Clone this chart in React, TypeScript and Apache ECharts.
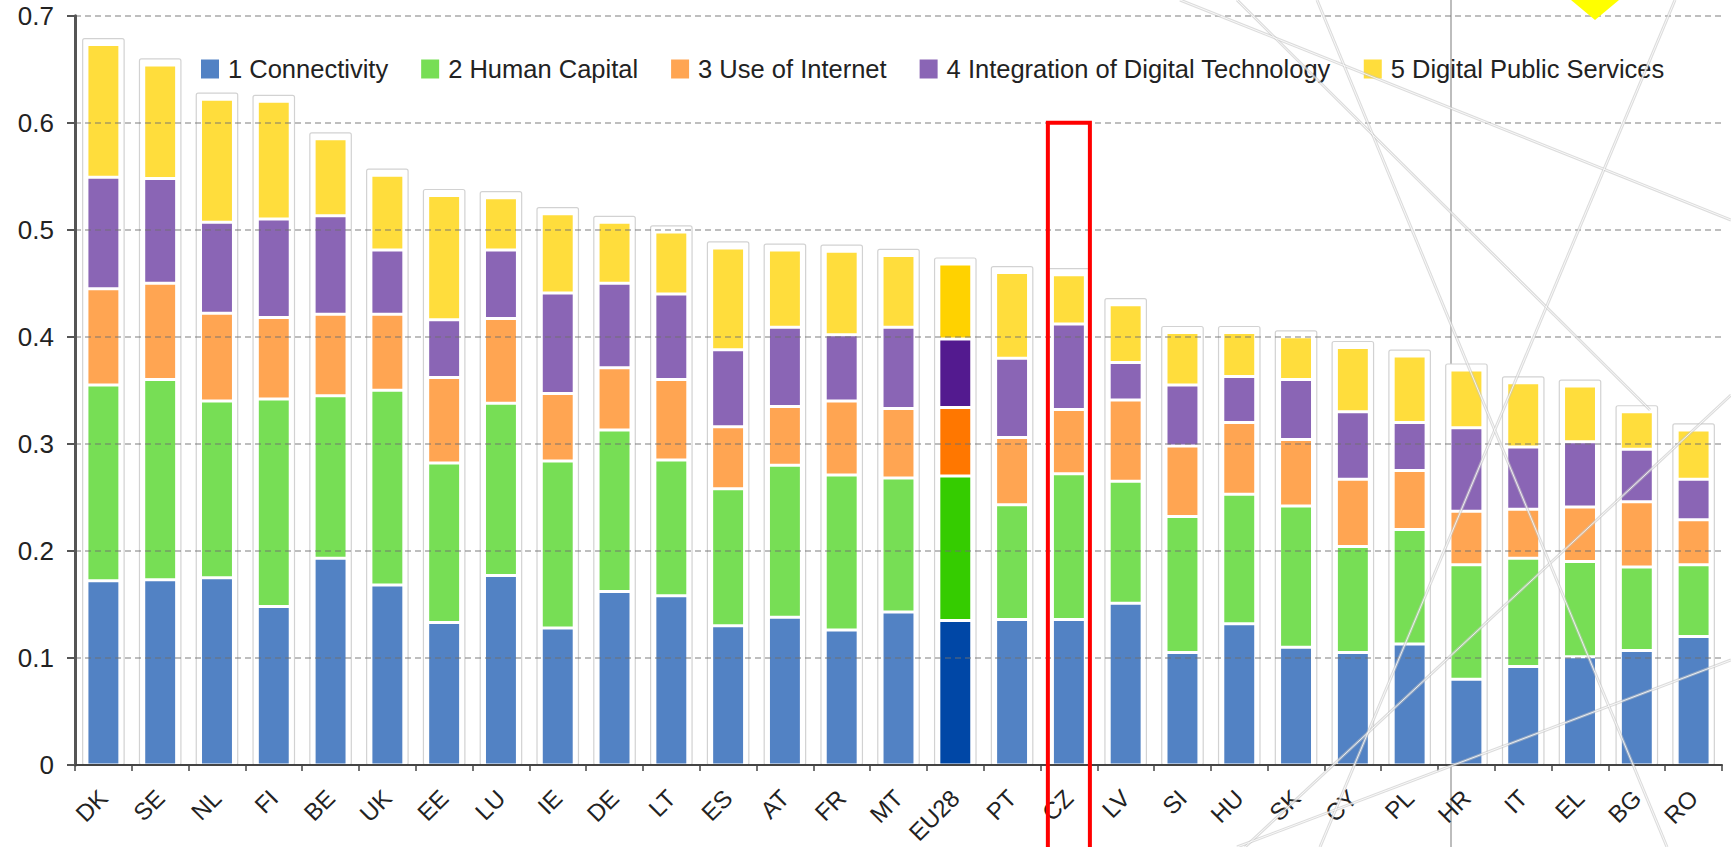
import React, { useEffect, useRef } from 'react';
import * as echarts from 'echarts';

const categories = ['DK','SE','NL','FI','BE','UK','EE','LU','IE','DE','LT','ES','AT','FR','MT','EU28','PT','CZ','LV','SI','HU','SK','CY','PL','HR','IT','EL','BG','RO'];
const connectivity = [0.172,0.173,0.175,0.148,0.193,0.168,0.133,0.177,0.128,0.162,0.158,0.130,0.138,0.126,0.143,0.135,0.136,0.136,0.151,0.105,0.132,0.110,0.105,0.113,0.080,0.092,0.101,0.107,0.120];
const humanCapital = [0.183,0.187,0.165,0.194,0.152,0.182,0.149,0.161,0.156,0.151,0.127,0.128,0.142,0.145,0.125,0.135,0.107,0.136,0.114,0.127,0.121,0.132,0.099,0.107,0.107,0.101,0.089,0.078,0.067];
const useOfInternet = [0.090,0.090,0.082,0.076,0.076,0.071,0.080,0.079,0.063,0.058,0.075,0.058,0.055,0.069,0.065,0.064,0.063,0.060,0.076,0.066,0.067,0.062,0.063,0.055,0.050,0.046,0.051,0.061,0.042];
const integration = [0.104,0.098,0.085,0.092,0.092,0.060,0.054,0.064,0.094,0.079,0.080,0.072,0.074,0.062,0.076,0.064,0.074,0.080,0.035,0.057,0.043,0.056,0.063,0.045,0.078,0.058,0.061,0.049,0.038];
const publicServices = [0.124,0.106,0.115,0.110,0.072,0.070,0.116,0.049,0.074,0.057,0.058,0.095,0.072,0.078,0.067,0.070,0.080,0.046,0.054,0.049,0.041,0.040,0.060,0.062,0.054,0.060,0.052,0.035,0.046];

const seriesNames = ['1 Connectivity','2 Human Capital','3 Use of Internet','4 Integration of Digital Technology','5 Digital Public Services'];
const seriesColors = ['#5282C4','#77DE55','#FFA552','#8A65B5','#FFDD3C'];
const highlightColors = ['#0047A6','#35CC00','#FF7700','#531A8F','#FFD200'];
const highlightCategory = 'EU28';
const markedCategory = 'CZ';
const markedTop = 0.6;
const yTicks = [0, 0.1, 0.2, 0.3, 0.4, 0.5, 0.6, 0.7];

const FONT = '"Liberation Sans", Arial, Helvetica, sans-serif';

export default function App() {
  const ref = useRef<HTMLDivElement>(null);
  useEffect(() => {
    if (!ref.current) return;
    const chart = echarts.init(ref.current, null, { renderer: 'svg' });
    const all = [connectivity, humanCapital, useOfInternet, integration, publicServices];
    const totals = categories.map((_, i) => all.reduce((s, arr) => s + arr[i], 0));

    const barSeries = all.map((arr, si) => ({
      name: seriesNames[si],
      type: 'bar',
      stack: 'desi',
      barWidth: '58%',
      z: 3,
      itemStyle: { color: seriesColors[si], borderColor: '#ffffff', borderWidth: 1.5 },
      emphasis: { disabled: true },
      data: arr.map((v, i) =>
        categories[i] === highlightCategory
          ? { value: v, itemStyle: { color: highlightColors[si] } }
          : v
      ),
    }));

    const frameSeries = {
      type: 'custom',
      z: 1,
      silent: true,
      encode: { x: 0, y: 1 },
      data: totals.map((t, i) => [i, t]),
      renderItem: (params: any, api: any) => {
        const idx = api.value(0);
        const top = api.coord([idx, api.value(1)]);
        const bottom = api.coord([idx, 0]);
        const w = api.size([1, 0])[0] * 0.73;
        return {
          type: 'rect',
          shape: { x: top[0] - w / 2, y: top[1] - 6, width: w, height: bottom[1] - top[1] + 6, r: 2 },
          style: { fill: '#ffffff', stroke: '#d2d2d2', lineWidth: 1.2 },
        };
      },
    };

    chart.setOption({
      animation: false,
      backgroundColor: '#ffffff',
      textStyle: { fontFamily: FONT },
      grid: { left: 75, right: 9, top: 15.7, bottom: 81.5, containLabel: false },
      legend: {
        data: seriesNames.map((n) => ({ name: n, itemStyle: { borderColor: '#ffffff', borderWidth: 0 } })),
        left: 196,
        top: 51,
        icon: 'rect',
        itemWidth: 18,
        itemHeight: 19,
        itemGap: 33,
        textStyle: { fontSize: 25.5, color: '#222', fontFamily: FONT, padding: [8, 0, 0, 4] },
        selectedMode: false,
      },
      xAxis: {
        type: 'category',
        data: categories,
        z: 10,
        axisLine: { show: true, lineStyle: { color: '#444', width: 2 } },
        axisTick: { show: true, length: 6, lineStyle: { color: '#444', width: 1.5 } },
        axisLabel: { interval: 0, rotate: 45, fontSize: 24, color: '#222', margin: 29, fontFamily: FONT },
        splitLine: { show: false },
      },
      yAxis: {
        type: 'value',
        min: yTicks[0],
        max: yTicks[yTicks.length - 1],
        interval: 0.1,
        z: 10,
        axisLine: { show: true, lineStyle: { color: '#555', width: 3 } },
        axisTick: { show: true, length: 8, lineStyle: { color: '#555', width: 2 } },
        axisLabel: {
          fontSize: 26,
          color: '#222',
          margin: 21,
          fontFamily: FONT,
          formatter: (v: number) => (v === 0 ? '0' : v.toFixed(1)),
        },
        splitLine: { show: true, lineStyle: { color: 'rgba(110,110,110,0.45)', type: [6, 4], width: 2 } },
      },
      series: [frameSeries, ...barSeries],
    });

    const p = chart.convertToPixel({ xAxisIndex: 0, yAxisIndex: 0 }, [markedCategory, markedTop]) as number[];
    const catW = (chart.convertToPixel({ xAxisIndex: 0 }, categories[1]) as number) - (chart.convertToPixel({ xAxisIndex: 0 }, categories[0]) as number);
    const halfW = catW * 0.37;

    const decoLines = [
      [1180, 0, 1731, 220],
      [1237, 0, 1650, 410],
      [1317, 0, 1667, 847],
      [1675, 0, 1320, 847],
      [1237, 847, 1731, 660],
      [1245, 847, 1731, 395],
    ];
    const decoEls: any[] = [];
    decoLines.forEach((l) => {
      decoEls.push({
        type: 'line',
        silent: true,
        z: 20,
        shape: { x1: l[0], y1: l[1], x2: l[2], y2: l[3] },
        style: { stroke: '#c4c4c4', lineWidth: 3, opacity: 0.6 },
      });
      decoEls.push({
        type: 'line',
        silent: true,
        z: 21,
        shape: { x1: l[0], y1: l[1], x2: l[2], y2: l[3] },
        style: { stroke: '#ffffff', lineWidth: 1, opacity: 0.8 },
      });
    });
    chart.setOption({
      graphic: [
        {
          type: 'line',
          silent: true,
          z: 0,
          shape: { x1: 1451, y1: 0, x2: 1451, y2: 847 },
          style: { stroke: '#bdbdbd', lineWidth: 2 },
        },
        ...decoEls,
        {
          type: 'polygon',
          silent: true,
          z: 22,
          shape: { points: [[1571, 0], [1595, 20], [1619, 0], [1595, -20]] },
          style: { fill: '#FFFF00' },
        },
        {
          type: 'rect',
          silent: true,
          z: 30,
          shape: { x: p[0] - halfW, y: p[1], width: halfW * 2, height: 900 - p[1] },
          style: { fill: 'none', stroke: '#FF0000', lineWidth: 4 },
        },
      ],
    });

    return () => chart.dispose();
  }, []);
  return (
    <div
      ref={ref}
      style={{ position: 'fixed', left: 0, top: 0, width: 1731, height: 847, background: '#fff' }}
    />
  );
}
